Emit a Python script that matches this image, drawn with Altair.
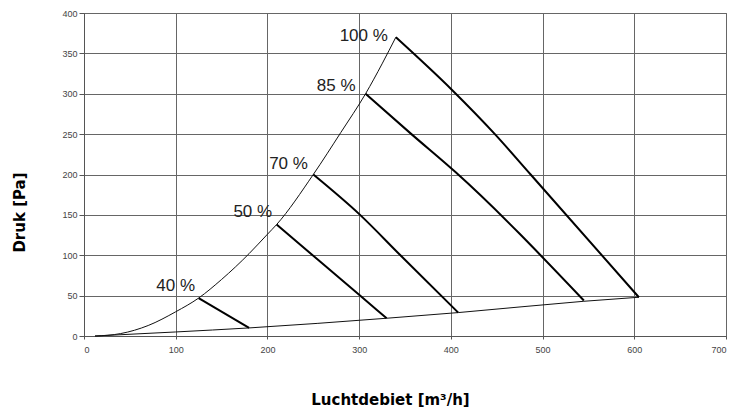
import altair as alt
import pandas as pd

# Upper (max) curve
upper_x = [12, 40, 70, 100, 125, 150, 180, 200, 210, 250, 280, 307, 325, 340]
upper_y = [0, 3, 13, 30, 47, 70, 102, 126, 138, 200, 252, 300, 337, 370]

# Lower (min) curve
lower_x = [12, 100, 180, 330, 408, 545, 605]
lower_y = [0, 5, 10, 22, 29, 43, 48]

# Speed lines
l40_x = [125, 180]
l40_y = [47, 10]
l50_x = [210, 300, 330]
l50_y = [138, 51, 22]
l70_x = [250, 301, 345, 408]
l70_y = [200, 150, 100, 29]
l85_x = [307, 357, 405, 545]
l85_y = [300, 250, 203, 44]
l100_x = [340, 401, 448, 487, 605]
l100_y = [370, 305, 250, 200, 48]

label_text = ["40 %", "50 %", "70 %", "85 %", "100 %"]
label_x = [100, 184, 223, 275, 305]
label_y = [62, 153, 213, 309, 372]

x_ticks = [0, 100, 200, 300, 400, 500, 600, 700]
y_ticks = [0, 50, 100, 150, 200, 250, 300, 350, 400]


def frame(name, xs, ys):
    return pd.DataFrame({"s": name, "x": xs, "y": ys, "o": list(range(len(xs)))})


curves = pd.concat([frame("upper", upper_x, upper_y), frame("lower", lower_x, lower_y)])
speeds = pd.concat([
    frame("40", l40_x, l40_y),
    frame("50", l50_x, l50_y),
    frame("70", l70_x, l70_y),
    frame("85", l85_x, l85_y),
    frame("100", l100_x, l100_y),
])
labels = pd.DataFrame({"t": label_text, "x": label_x, "y": label_y})

xs = alt.Scale(domain=[0, 700], nice=False, zero=False)
ys = alt.Scale(domain=[0, 400], nice=False, zero=False)

xaxis = alt.Axis(
    values=x_ticks, title="Luchtdebiet [m³/h]", grid=True, gridColor="#666", gridWidth=1,
    domainColor="#555", tickColor="#555", tickSize=3, labelPadding=6,
    labelFontSize=9, labelColor="#444", labelFont="Liberation Sans",
    titleFont="DejaVu Sans", titleFontSize=15, titleFontWeight=900, titleColor="#000",
    titleX=306, titleY=63, titleBaseline="middle", titleAlign="center",
)
yaxis = alt.Axis(
    values=y_ticks, title="Druk [Pa]", grid=True, gridColor="#666", gridWidth=1,
    domainColor="#555", tickColor="#555", tickSize=5, labelPadding=2,
    labelFontSize=9, labelColor="#444", labelFont="Liberation Sans",
    titleFont="DejaVu Sans", titleFontSize=15, titleFontWeight=900, titleColor="#000",
    titleX=-65, titleY=199, titleBaseline="middle", titleAlign="center", titleAngle=-90,
)

base_c = alt.Chart(curves).mark_line(color="#111", strokeWidth=1, interpolate="monotone").encode(
    x=alt.X("x:Q", scale=xs, axis=xaxis),
    y=alt.Y("y:Q", scale=ys, axis=yaxis),
    detail="s:N",
    order="o:Q",
)
lines = alt.Chart(speeds).mark_line(color="#000", strokeWidth=2, interpolate="monotone").encode(
    x=alt.X("x:Q", scale=xs),
    y=alt.Y("y:Q", scale=ys),
    detail="s:N",
    order="o:Q",
)
text = alt.Chart(labels).mark_text(
    font="Liberation Sans", fontSize=17, color="#222", align="center", baseline="middle"
).encode(
    x=alt.X("x:Q", scale=xs),
    y=alt.Y("y:Q", scale=ys),
    text="t:N",
)

chart = (
    alt.layer(base_c, lines, text)
    .properties(
        width=642, height=323,
        autosize=alt.AutoSizeParams(type="none"),
        padding={"left": 84, "top": 13, "right": 16, "bottom": 73},
        background="white",
    )
    .configure_view(stroke="#666", strokeWidth=1)
)

chart.save("out.html", embed_options={"renderer": "svg", "actions": False})
